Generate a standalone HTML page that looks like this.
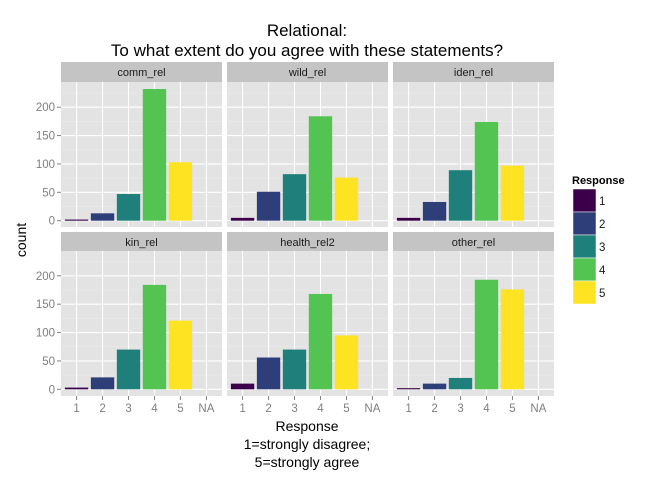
<!DOCTYPE html>
<html><head><meta charset="utf-8"><style>
body{margin:0;background:#fff;}
svg{display:block;font-family:"Liberation Sans",sans-serif;}
</style></head><body>
<svg id="c" width="672" height="480" viewBox="0 0 672 480">
<text x="307" y="36" font-size="17" text-anchor="middle">Relational:</text>
<text x="307" y="56" font-size="17" text-anchor="middle">To what extent do you agree with these statements?</text>
<g id="panels"></g>
<text transform="translate(26,240) rotate(-90)" font-size="14" text-anchor="middle">count</text>
<text x="307" y="431" font-size="14" text-anchor="middle">Response</text>
<text x="307" y="449" font-size="14" text-anchor="middle">1=strongly disagree;</text>
<text x="307" y="467" font-size="14" text-anchor="middle">5=strongly agree</text>
<g id="legend">
<text x="572" y="184" font-size="11" font-weight="bold">Response</text>
</g>
</svg>
<script>
const panelNames = ["comm_rel","wild_rel","iden_rel","kin_rel","health_rel2","other_rel"];
const categories = ["1","2","3","4","5","NA"];
const comm_rel = [2,13,47,232,103,0];
const wild_rel = [5,51,82,184,76,0];
const iden_rel = [5,33,89,174,97,0];
const kin_rel = [3,21,70,184,121,0];
const health_rel2 = [10,56,70,168,95,0];
const other_rel = [2,10,20,193,176,0];
const yTicks = [0,50,100,150,200];
const colors = ["#3b0049","#2e3e78","#1f807b","#53c352","#fde321"];

const series=[comm_rel,wild_rel,iden_rel,kin_rel,health_rel2,other_rel];
const NS="http://www.w3.org/2000/svg";
const svg=document.getElementById('c');
function mk(tag,attrs,parent){const e=document.createElementNS(NS,tag);for(const k in attrs)e.setAttribute(k,attrs[k]);(parent||svg).appendChild(e);return e;}
const pg=document.getElementById('panels');
const colsX=[61,227,393], pw=161;
const rows=[{st:62,pt:82,pb:227,y0:220.7},{st:232,pt:251,pb:396,y0:389.3}];
const pxPer=113.5/200;
panelNames.forEach((name,i)=>{
  const r=rows[Math.floor(i/3)], x0=colsX[i%3];
  const g=mk('g',{},pg);
  
  
  const strip=mk('rect',{x:x0,y:r.st,width:pw,height:r.pt-r.st,fill:'#c4c4c4'},g);
  
  
  const st=mk('text',{x:x0+pw/2,y:r.st+14,'font-size':11,'text-anchor':'middle',fill:'#1a1a1a'},g);
  st.textContent=name;
  
  
  const bg=mk('rect',{x:x0,y:r.pt,width:pw,height:r.pb-r.pt,fill:'#e3e3e3'},g);
  
  
  const ys=v=>r.y0-v*pxPer;
  const step=pw/(categories.length+0.2);
  const xs=j=>x0+step*(0.6+j);
  for(let k=0;k<yTicks.length;k++){const v=yTicks[k]+25;const y=ys(v);if(y>r.pt)mk('line',{x1:x0,x2:x0+pw,y1:y,y2:y,stroke:'#ececec','stroke-width':0.6},g);}
  yTicks.forEach(v=>{const y=ys(v);mk('line',{x1:x0,x2:x0+pw,y1:y,y2:y,stroke:'#fff','stroke-width':1.1},g);
    if(i%3===0){mk('line',{x1:x0-4,x2:x0,y1:y,y2:y,stroke:'#7f7f7f'},g);
      const t=mk('text',{x:x0-6,y:y+4,'font-size':11.5,'text-anchor':'end',fill:'#7f7f7f'},g);t.textContent=v;
      
      }});
  categories.forEach((c,j)=>{const x=xs(j);mk('line',{x1:x,x2:x,y1:r.pt,y2:r.pb,stroke:'#fff','stroke-width':1.1},g);
    if(i>=3){mk('line',{x1:x,x2:x,y1:r.pb,y2:r.pb+4,stroke:'#7f7f7f'},g);
      const t=mk('text',{x:x,y:r.pb+16,'font-size':11.5,'text-anchor':'middle',fill:'#7f7f7f'},g);t.textContent=c;
      
      }});
  series[i].forEach((v,j)=>{if(j>=colors.length||!v)return;const bw=step*0.9;
    const b=mk('rect',{x:xs(j)-bw/2,y:ys(v),width:bw,height:v*pxPer,fill:colors[j]},g);
    
    });
});
const lg=document.getElementById('legend');
colors.forEach((c,j)=>{
  const k=mk('rect',{x:573,y:189+j*23,width:23,height:23,fill:c,stroke:'#fff','stroke-width':0.5},lg);
  
  
  const t=mk('text',{x:599,y:189+j*23+16,'font-size':11.5,fill:'#1a1a1a'},lg);t.textContent=categories[j];
  
  
});
</script>
</body></html>
